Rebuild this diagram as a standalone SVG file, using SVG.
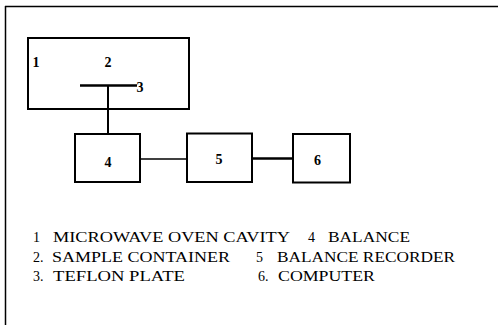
<svg xmlns="http://www.w3.org/2000/svg" width="498" height="325" viewBox="0 0 498 325">
<style>
.box{fill:none;stroke:#000;stroke-width:2}
.num{font-family:"Liberation Serif",serif;font-size:14px;font-weight:bold;fill:#000}
.leg{font-family:"Liberation Serif",serif;font-size:14px;fill:#000}
.ln{stroke:#000;fill:none}
</style>
<rect width="498" height="325" fill="#fff"/>
<g id="frame">
<line class="ln" x1="5" y1="6.5" x2="498" y2="6.5" stroke-width="1.5"/>
<line class="ln" x1="5.5" y1="6" x2="5.5" y2="325" stroke-width="1.5"/>
</g>
<g id="node1">
<rect class="box" x="28" y="38" width="161" height="71"/>
<text class="num" x="36" y="67" text-anchor="middle">1</text>
<text class="num" x="108" y="67" text-anchor="middle">2</text>
</g>
<g id="node3">
<text class="num" x="140" y="92" text-anchor="middle">3</text>
</g>
<g id="node4">
<rect class="box" x="75" y="134" width="65" height="48"/>
<text class="num" x="108" y="166.5" text-anchor="middle">4</text>
</g>
<g id="node5">
<rect class="box" x="187" y="133.5" width="65" height="48.5"/>
<text class="num" x="219" y="163.5" text-anchor="middle">5</text>
</g>
<g id="node6">
<rect class="box" x="293" y="134" width="57" height="48.5"/>
<text class="num" x="317.5" y="164.5" text-anchor="middle">6</text>
</g>
<g id="connectors">
<line class="ln" x1="80" y1="85.5" x2="137" y2="85.5" stroke-width="2.5"/>
<line class="ln" x1="108" y1="85" x2="108" y2="134" stroke-width="2"/>
<line class="ln" x1="140" y1="159" x2="187" y2="159" stroke-width="1.3"/>
<line class="ln" x1="252" y1="158.5" x2="293" y2="158.5" stroke-width="2.5"/>
</g>
<g id="legend">
<text class="leg" x="33" y="242">1</text>
<text class="leg" x="53" y="242" textLength="237" lengthAdjust="spacingAndGlyphs">MICROWAVE OVEN CAVITY</text>
<text class="leg" x="308" y="242">4</text>
<text class="leg" x="328" y="242" textLength="82" lengthAdjust="spacingAndGlyphs">BALANCE</text>
<text class="leg" x="33" y="261.5">2.</text>
<text class="leg" x="52" y="261.5" textLength="178" lengthAdjust="spacingAndGlyphs">SAMPLE CONTAINER</text>
<text class="leg" x="256" y="261.5">5</text>
<text class="leg" x="277" y="261.5" textLength="178" lengthAdjust="spacingAndGlyphs">BALANCE RECORDER</text>
<text class="leg" x="33" y="280.5">3.</text>
<text class="leg" x="53" y="280.5" textLength="132" lengthAdjust="spacingAndGlyphs">TEFLON PLATE</text>
<text class="leg" x="258" y="280.5">6.</text>
<text class="leg" x="278" y="280.5" textLength="97" lengthAdjust="spacingAndGlyphs">COMPUTER</text>
</g>
</svg>
